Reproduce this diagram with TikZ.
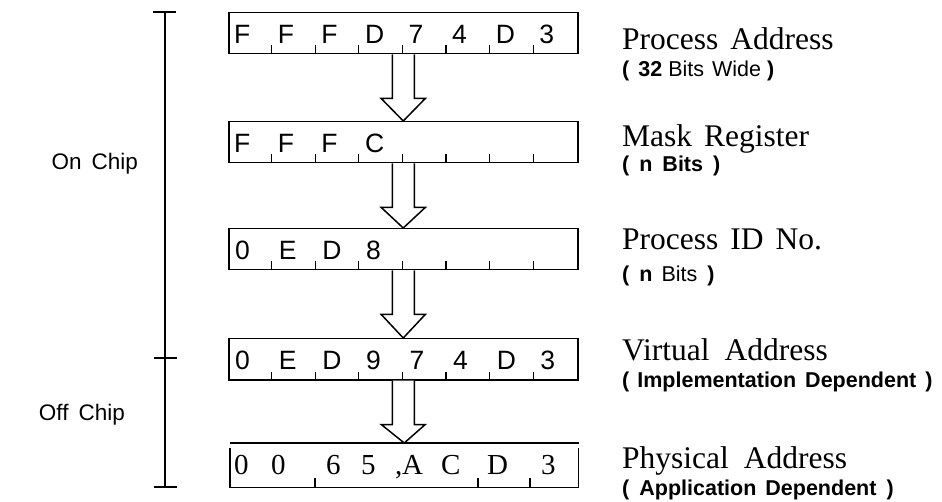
\documentclass[tikz,border=0pt]{standalone}
\usepackage{fontspec}
\setmainfont{Liberation Serif}
\setsansfont{Liberation Sans}
\usetikzlibrary{calc}
\begin{document}
\begin{tikzpicture}[x=1pt,y=-1pt,
  reg/.style={draw, line width=1.5pt, minimum width=349pt, minimum height=41pt, inner sep=0pt, anchor=north west},
  hexd/.style={font=\sffamily\fontsize{26.5}{26.5}\selectfont, anchor=base west, inner sep=0pt},
  serd/.style={font=\rmfamily\fontsize{29}{29}\selectfont, anchor=base west, inner sep=0pt},
  tickline/.style={line width=1.2pt},
  fatarrow/.style={draw, line width=1.5pt, fill=white, line join=miter},
  title/.style={font=\rmfamily\fontsize{31.5}{31.5}\selectfont, anchor=base west, inner sep=0pt},
  subtitle/.style={font=\sffamily\fontsize{21.5}{21.5}\selectfont, anchor=base west, inner sep=0pt},
  side/.style={font=\sffamily\fontsize{22.5}{22.5}\selectfont, anchor=base east, inner sep=0pt},
  brack/.style={line width=1.8pt}]
\useasboundingbox (0,0) rectangle (942,502);

% registers
\node[reg] (b1) at (228,12) {};
\node[reg] (b2) at (228,121) {};
\node[reg] (b3) at (228,228) {};
\node[reg] (b4) at (228,338) {};
\node[reg, draw=none, minimum width=347pt, minimum height=43pt] (b5) at (230,443) {};

% ticks on registers 1-4
\foreach \b in {b1,b2,b3,b4}{
  \foreach \i in {1,...,7}
    \draw[tickline] ($(\b.south west)+(\i*43.6,0)$) -- ++(0,-9);
}
% digits
\foreach \c [count=\i from 0] in {F,F,F,D,7,4,D,3}
  \node[hexd] at ($(b1.south west)+(\i*43.6+6,-11)$) {\c};
\foreach \c [count=\i from 0] in {F,F,F,C}
  \node[hexd] at ($(b2.south west)+(\i*43.6+6,-11)$) {\c};
\foreach \c [count=\i from 0] in {0,E,D,8}
  \node[hexd] at ($(b3.south west)+(\i*43.6+7,-11)$) {\c};
\foreach \c [count=\i from 0] in {0,E,D,9,7,4,D,3}
  \node[hexd] at ($(b4.south west)+(\i*43.6+7,-11)$) {\c};

% physical address register
\draw[line width=1.5pt] (b5.north west) -- (b5.north east);
\draw[line width=1.5pt] ($(b5.north west)+(0,5)$) -- (b5.south west) -- (b5.south east) -- ($(b5.north east)+(0,5)$);
\foreach \x in {85,248,300}
  \draw[tickline] ($(b5.south west)+(\x,0)$) -- ++(0,-10);
\foreach \c/\x in {0/4,0/41,6/96,5/131,{,}/165,A/172,C/211,D/257,3/311}
  \node[serd] at ($(b5.south west)+(\x,-13)$) {\c};

% fat arrows
\foreach \u/\v in {b1/b2,b2/b3,b3/b4,b4/b5}{
  \draw[fatarrow] ($(\u.south)+(-11,0)$) -- ($(\u.south)+(-11,44)$) -- ($(\u.south)+(-22,44)$)
    -- (\v.north) -- ($(\u.south)+(22,44)$) -- ($(\u.south)+(11,44)$) -- ($(\u.south)+(11,0)$);
}

% bracket
\coordinate (bt) at (165,12);
\coordinate (bb) at (165,487);
\coordinate (bm) at (165,358);
\draw[brack] (bt) -- (bb);
\draw[brack] ($(bt)+(-12,0)$) -- ($(bt)+(11,0)$);
\draw[brack] ($(bb)+(-11,0)$) -- ($(bb)+(12,0)$);
\draw[brack] ($(bm)+(-11,0)$) -- ($(bm)+(12,0)$);
\node[side] (on) at (138,170) {On\hspace{10pt}Chip};
\node[side] (off) at (125,420) {Off\hspace{10pt}Chip};

% labels
\node[title] (t1) at (622,50) {Process\hspace{12pt}Address};
\node[subtitle] (s1) at (622,77) {\textbf{(}\hspace{9pt}\textbf{32} Bits\hspace{8pt}Wide \textbf{)}};
\node[title] (t2) at (622,147) {Mask\hspace{12pt}Register};
\node[subtitle] (s2) at (622,172) {\textbf{(\hspace{10pt}n\hspace{10pt}Bits\hspace{10pt})}};
\node[title] (t3) at (622,250) {Process\hspace{12pt}ID\hspace{12pt}No.};
\node[subtitle] (s3) at (622,282) {\textbf{(}\hspace{10pt}\textbf{n}\hspace{9pt}Bits\hspace{10pt}\textbf{)}};
\node[title] (t4) at (622,360) {Virtual\hspace{15pt}Address};
\node[subtitle] (s4) at (622,387) {\textbf{(\hspace{8pt}Implementation\hspace{9pt}Dependent\hspace{9pt})}};
\node[title] (t5) at (622,468) {Physical\hspace{15pt}Address};
\node[subtitle] (s5) at (622,495) {\textbf{(\hspace{10pt}Application\hspace{9pt}Dependent\hspace{10pt})}};
\end{tikzpicture}
\end{document}
